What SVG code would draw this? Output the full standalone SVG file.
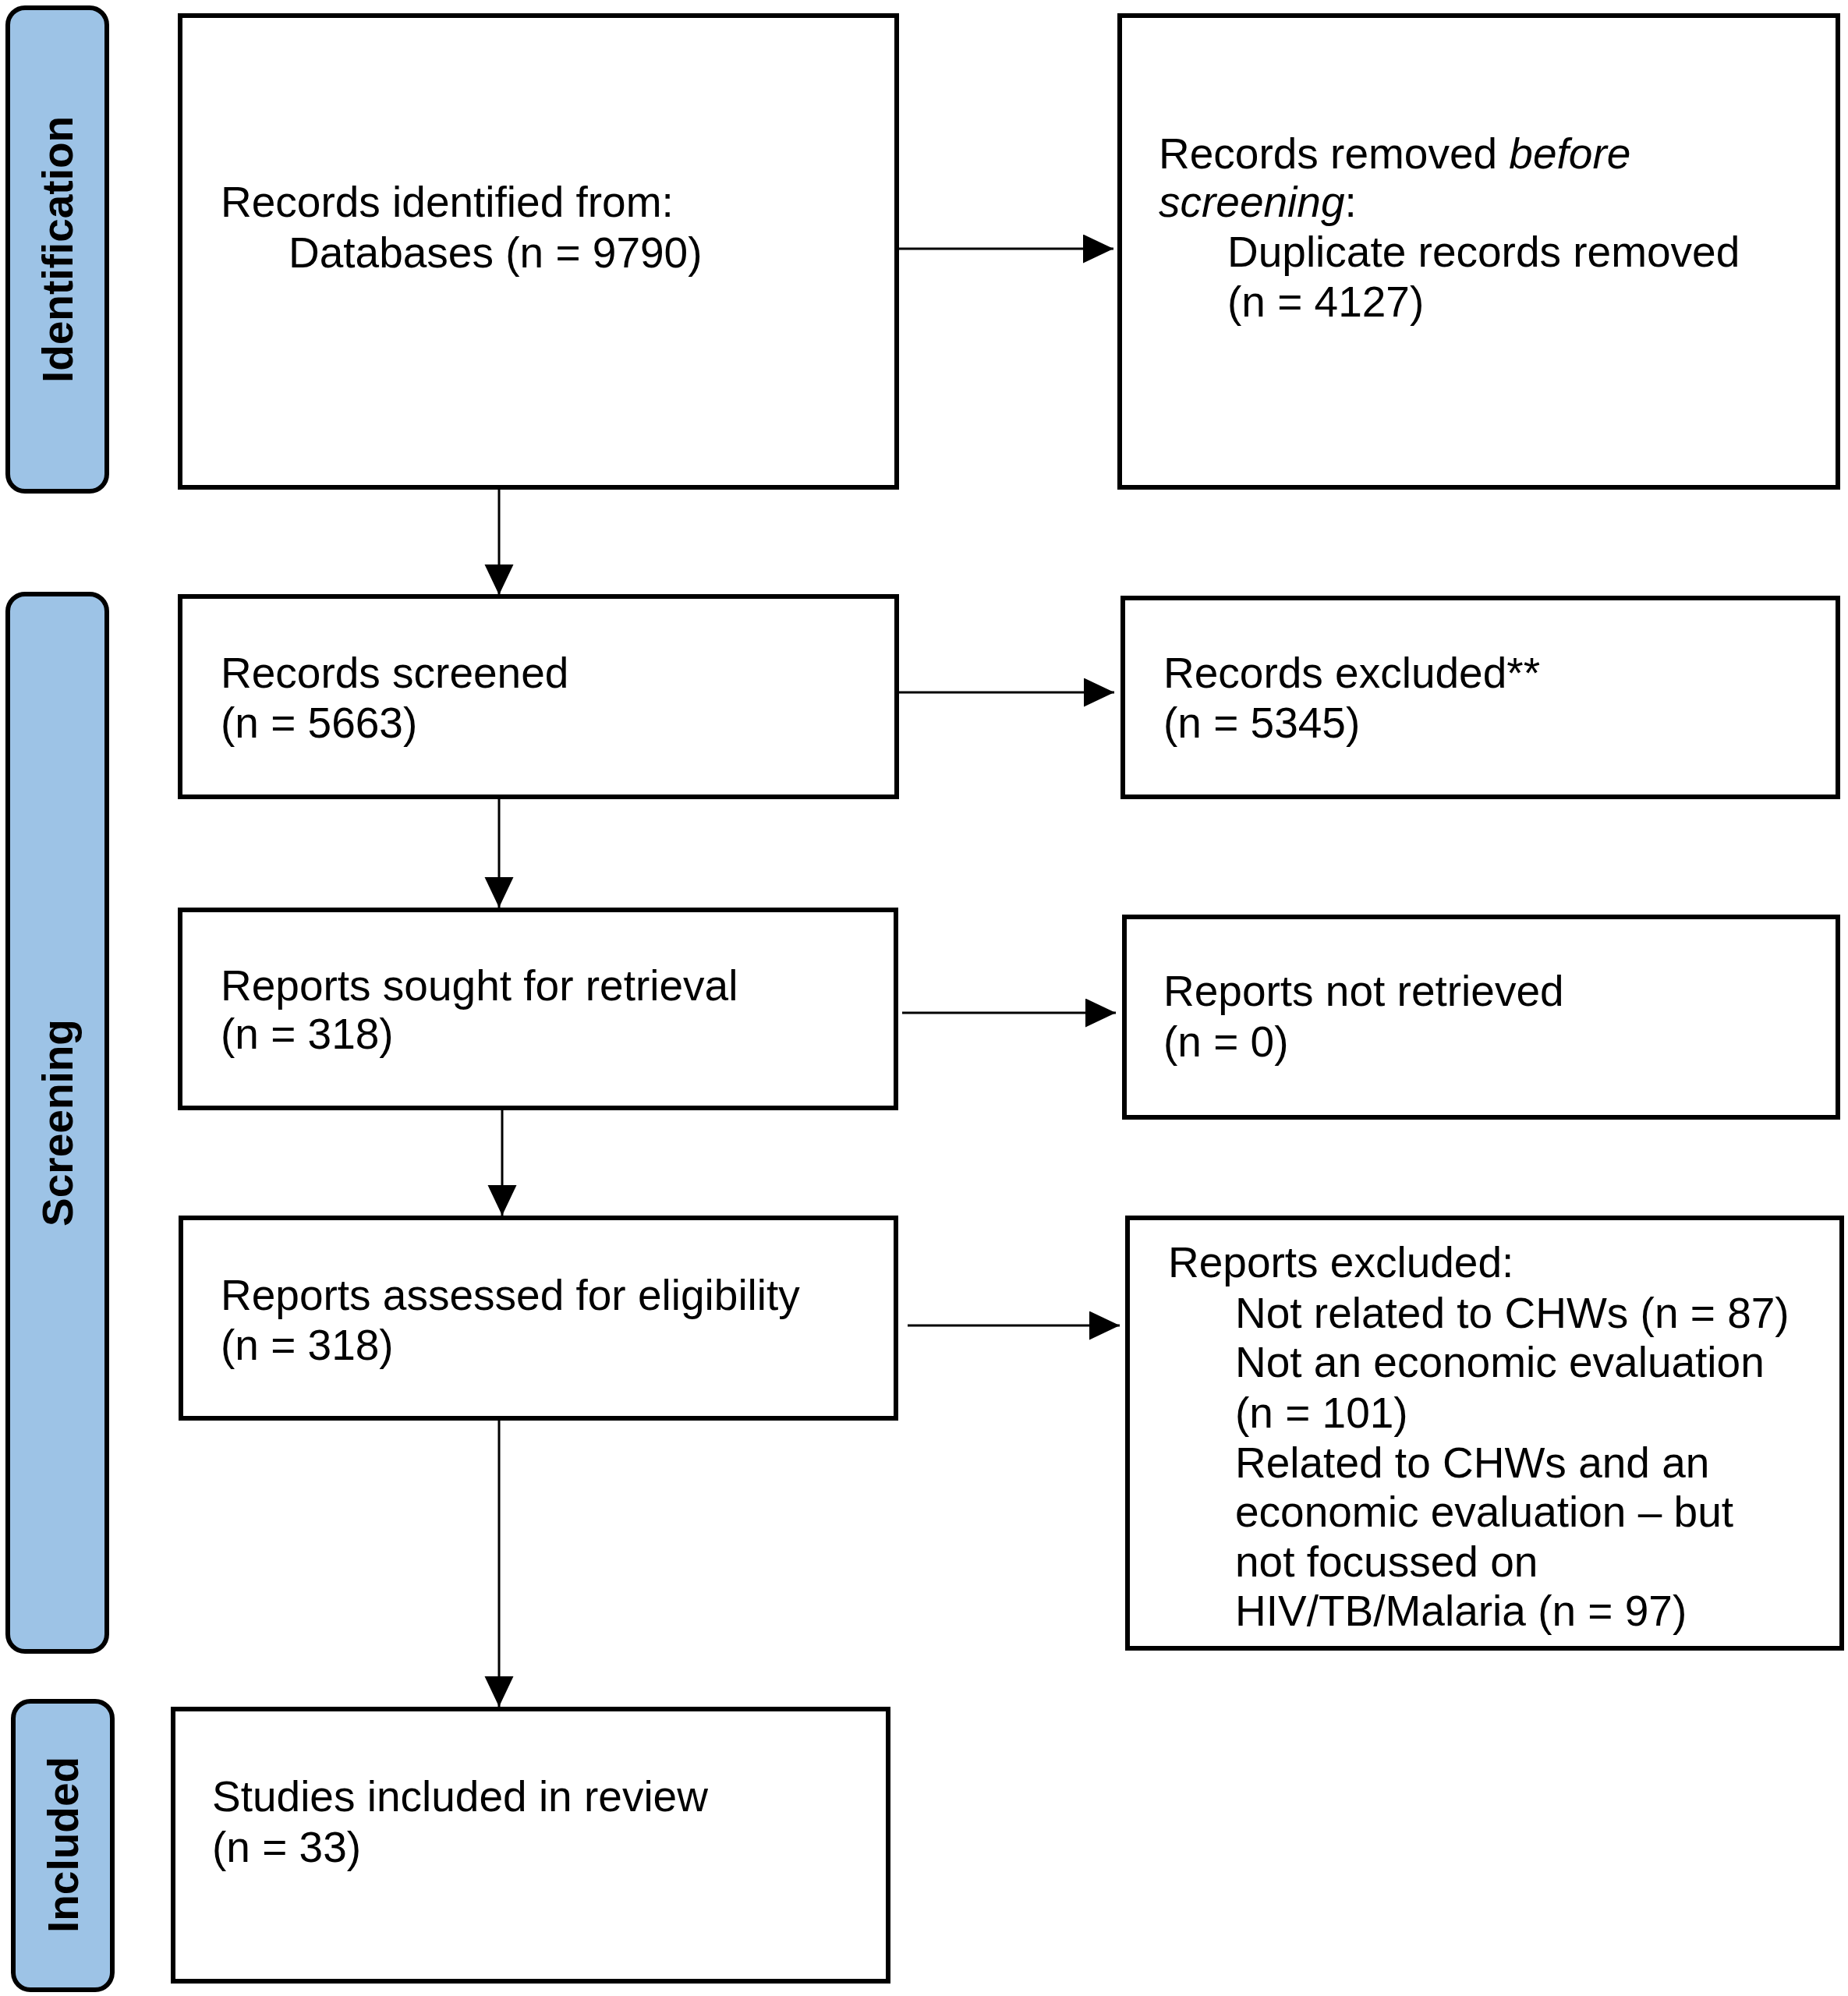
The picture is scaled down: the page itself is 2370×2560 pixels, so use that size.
<svg xmlns="http://www.w3.org/2000/svg" width="2370" height="2560" viewBox="0 0 2370 2560">
<style>
.box{fill:#fff;stroke:#000;stroke-width:6}
.phase{fill:#9DC3E6;stroke:#000;stroke-width:6}
.t{font-family:"Liberation Sans",Arial,sans-serif;font-size:55px;fill:#000}
.pt{font-family:"Liberation Sans",Arial,sans-serif;font-size:55px;font-weight:bold;fill:#000;text-anchor:middle}
.c{stroke:#000;stroke-width:3;fill:none;marker-end:url(#ah)}
</style>
<defs>
<marker id="ah" markerUnits="userSpaceOnUse" markerWidth="40" markerHeight="38" refX="39" refY="18.5" orient="auto">
<path d="M0,0 L39,18.5 L0,37 Z" fill="#000"/>
</marker>
</defs>
<rect width="2370" height="2560" fill="#fff"/>
<g id="phase-identification">
<rect class="phase" x="10" y="10" width="127" height="620" rx="22"/>
<text class="pt" transform="translate(93,320) rotate(-90)">Identification</text>
</g>
<g id="phase-screening">
<rect class="phase" x="10" y="762" width="127" height="1356" rx="22"/>
<text class="pt" transform="translate(93,1440) rotate(-90)">Screening</text>
</g>
<g id="phase-included">
<rect class="phase" x="17" y="2182" width="127" height="370" rx="22"/>
<text class="pt" transform="translate(100,2366) rotate(-90)">Included</text>
</g>
<g id="connectors">
<line class="c" x1="1150" y1="319" x2="1428" y2="319"/>
<line class="c" x1="640" y1="625" x2="640" y2="763"/>
<line class="c" x1="1150" y1="888" x2="1429" y2="888"/>
<line class="c" x1="640" y1="1022" x2="640" y2="1164"/>
<line class="c" x1="1157" y1="1299" x2="1431" y2="1299"/>
<line class="c" x1="644" y1="1421" x2="644" y2="1559"/>
<line class="c" x1="1164" y1="1700" x2="1436" y2="1700"/>
<line class="c" x1="640" y1="1819" x2="640" y2="2189"/>
</g>
<g id="node-identified">
<rect class="box" x="231" y="20" width="919" height="605"/>
<text class="t" x="283" y="278">Records identified from:</text>
<text class="t" x="370" y="343">Databases (n = 9790)</text>
</g>
<g id="node-removed">
<rect class="box" x="1436" y="20" width="921" height="605"/>
<text class="t" x="1486" y="216">Records removed <tspan font-style="italic">before</tspan></text>
<text class="t" x="1486" y="278"><tspan font-style="italic">screening</tspan>:</text>
<text class="t" x="1574" y="342">Duplicate records removed</text>
<text class="t" x="1574" y="406">(n = 4127)</text>
</g>
<g id="node-screened">
<rect class="box" x="231" y="765" width="919" height="257"/>
<text class="t" x="283" y="882">Records screened</text>
<text class="t" x="283" y="946">(n = 5663)</text>
</g>
<g id="node-excluded">
<rect class="box" x="1440" y="767" width="917" height="255"/>
<text class="t" x="1492" y="882">Records excluded**</text>
<text class="t" x="1492" y="946">(n = 5345)</text>
</g>
<g id="node-sought">
<rect class="box" x="231" y="1167" width="918" height="254"/>
<text class="t" x="283" y="1283">Reports sought for retrieval</text>
<text class="t" x="283" y="1345">(n = 318)</text>
</g>
<g id="node-not-retrieved">
<rect class="box" x="1442" y="1176" width="915" height="257"/>
<text class="t" x="1492" y="1290">Reports not retrieved</text>
<text class="t" x="1492" y="1355">(n = 0)</text>
</g>
<g id="node-assessed">
<rect class="box" x="232" y="1562" width="917" height="257"/>
<text class="t" x="283" y="1680">Reports assessed for eligibility</text>
<text class="t" x="283" y="1744">(n = 318)</text>
</g>
<g id="node-reports-excluded">
<rect class="box" x="1446" y="1562" width="916" height="552"/>
<text class="t" x="1498" y="1638">Reports excluded:</text>
<text class="t" x="1584" y="1703">Not related to CHWs (n = 87)</text>
<text class="t" x="1584" y="1766">Not an economic evaluation</text>
<text class="t" x="1584" y="1831">(n = 101)</text>
<text class="t" x="1584" y="1895">Related to CHWs and an</text>
<text class="t" x="1584" y="1958">economic evaluation – but</text>
<text class="t" x="1584" y="2022">not focussed on</text>
<text class="t" x="1584" y="2085">HIV/TB/Malaria (n = 97)</text>
</g>
<g id="node-included">
<rect class="box" x="222" y="2192" width="917" height="349"/>
<text class="t" x="272" y="2323">Studies included in review</text>
<text class="t" x="272" y="2388">(n = 33)</text>
</g>
</svg>
